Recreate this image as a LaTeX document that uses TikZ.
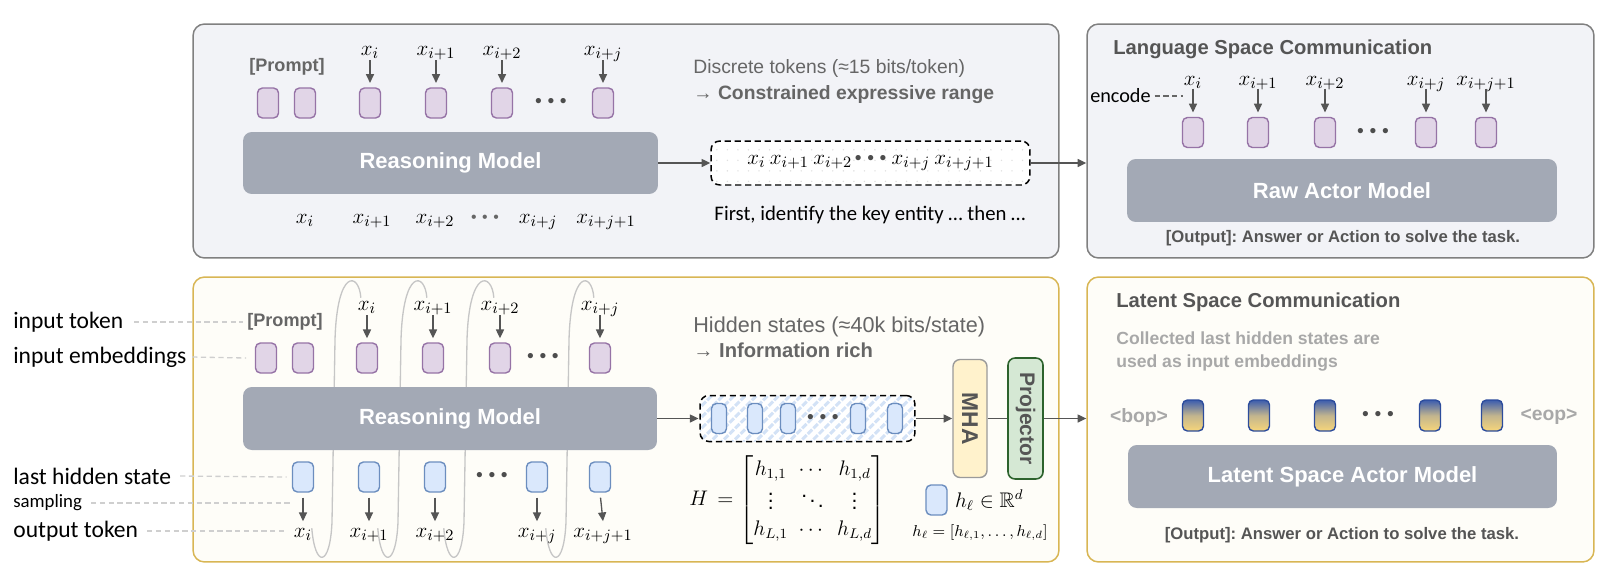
\documentclass[tikz,border=0pt]{standalone}
\usepackage{amsmath}
\usepackage{amssymb}
\usepackage{graphicx}
\usepackage{fontspec}
\setmainfont{Liberation Sans}
\newfontfamily\calfont{Carlito}
\usepackage{tikz}
\usetikzlibrary{arrows.meta}
\usetikzlibrary{patterns.meta}
\frenchspacing
\definecolor{panelfill}{HTML}{F2F3F7}
\definecolor{panelborder}{HTML}{808080}
\definecolor{goldfill}{HTML}{FEFDF8}
\definecolor{goldborder}{HTML}{D8B654}
\definecolor{modelgray}{HTML}{A3A9B5}
\definecolor{embfill}{HTML}{E1D5E7}
\definecolor{embdraw}{HTML}{9673A6}
\definecolor{hidfill}{HTML}{DAE8FC}
\definecolor{hiddraw}{HTML}{6C8EBF}
\definecolor{mhafill}{HTML}{FFF2CC}
\definecolor{mhadraw}{HTML}{9A9A9A}
\definecolor{projfill}{HTML}{D5E8D4}
\definecolor{projdraw}{HTML}{2D632D}
\definecolor{latblue}{HTML}{3C5DAE}
\definecolor{latyellow}{HTML}{F7D67A}
\definecolor{latmid}{HTML}{C2B58E}
\definecolor{latdraw}{HTML}{2C4C9C}
\definecolor{hatchblue}{HTML}{D3E2F6}
\definecolor{arrowgray}{HTML}{555555}
\definecolor{loopgray}{HTML}{C6C6C6}
\definecolor{guidegray}{HTML}{CFCFCF}
\definecolor{textgray}{HTML}{666666}
\definecolor{titlegray}{HTML}{555555}
\definecolor{lightgray}{HTML}{A8A8A8}
\definecolor{dotgray}{HTML}{4D4D4D}
\newcommand{\tokdots}{\textbullet\hspace{3.2pt}\textbullet\hspace{3.2pt}\textbullet}
\tikzset{
	panelstyle/.style={rectangle,rounded corners=6.5pt,draw=panelborder,line width=0.85pt,fill=panelfill},
	goldstyle/.style={rectangle,rounded corners=6.5pt,draw=goldborder,line width=0.85pt,fill=goldfill},
	modelstyle/.style={rectangle,rounded corners=5pt,fill=modelgray,text=white,font=\bfseries\fontsize{12.5}{15}\selectfont},
	embstyle/.style={rectangle,rounded corners=2.8pt,draw=embdraw,fill=embfill,line width=0.8pt,minimum width=0.42cm,minimum height=0.6cm,inner sep=0pt},
	hidstyle/.style={rectangle,rounded corners=2.8pt,draw=hiddraw,fill=hidfill,line width=0.8pt,minimum width=0.42cm,minimum height=0.6cm,inner sep=0pt},
	latstyle/.style={rectangle,rounded corners=2.8pt,draw=latdraw,line width=0.8pt,top color=latblue,bottom color=latyellow,middle color=latmid,minimum width=0.42cm,minimum height=0.62cm,inner sep=0pt},
	tokstyle/.style={anchor=base,inner sep=0.5pt,font=\fontsize{12.5}{14}\selectfont},
	dotsstyle/.style={inner sep=0pt,text=dotgray,font=\fontsize{11}{13}\selectfont},
	arrowstyle/.style={draw=arrowgray,line width=0.75pt,-{Triangle[length=5pt,width=4.6pt]}},
	loopstyle/.style={draw=loopgray,line width=0.75pt},
	guidestyle/.style={draw=guidegray,line width=0.75pt,dash pattern=on 3pt off 2pt},
	notestyle/.style={anchor=west,align=left,inner sep=0pt,text=textgray},
	titlestyle/.style={anchor=west,inner sep=0pt,text=titlegray,font=\bfseries\fontsize{11.5}{14}\selectfont},
	sidestyle/.style={anchor=west,inner sep=0pt,font=\calfont\fontsize{13.4}{15}\selectfont},
	outputstyle/.style={inner sep=0pt,text=titlegray,font=\bfseries\fontsize{9.5}{12}\selectfont},
	promptstyle/.style={inner sep=0pt,text=textgray,font=\bfseries\fontsize{10.3}{12}\selectfont},
	dashboxstyle/.style={rectangle,rounded corners=5pt,draw=black,line width=0.85pt,dash pattern=on 3.5pt off 2.2pt}
}

\begin{document}
\begin{tikzpicture}[x=0.02cm,y=-0.02cm]
		\useasboundingbox (0,0) rectangle (1616,582);
		% panels
		\node[panelstyle,minimum width=17.32cm,minimum height=4.68cm] (rpanel) at (626,141) {};
		\node[panelstyle,minimum width=10.14cm,minimum height=4.68cm] (langpanel) at (1340.5,141) {};
		\node[goldstyle,minimum width=17.32cm,minimum height=5.7cm] (lpanel) at (626,419.5) {};
		\node[goldstyle,minimum width=10.14cm,minimum height=5.7cm] (latpanel) at (1340.5,419.5) {};
		% top left: discrete tokens
		\node[promptstyle] (tprompt) at (287,67) {[Prompt]};
		\node[tokstyle] (tin1) at (370,55) {$x_i$};
		\node[tokstyle] (tin2) at (436,55) {$x_{i+1}$};
		\node[tokstyle] (tin3) at (502,55) {$x_{i+2}$};
		\node[tokstyle] (tin4) at (603,55) {$x_{i+j}$};
		\node[embstyle] (temb1) at (268,103) {};
		\node[embstyle] (temb2) at (305,103) {};
		\node[embstyle] (temb3) at (370,103) {};
		\node[embstyle] (temb4) at (436,103) {};
		\node[embstyle] (temb5) at (502,103) {};
		\node[dotsstyle] (tdots) at (551,103) {\tokdots};
		\node[embstyle] (temb6) at (603,103) {};
		\draw[arrowstyle,shorten >=2.5pt] ([yshift=-3pt]tin1.base) -- (temb3.north);
		\draw[arrowstyle,shorten >=2.5pt] ([yshift=-3pt]tin2.base) -- (temb4.north);
		\draw[arrowstyle,shorten >=2.5pt] ([yshift=-3pt]tin3.base) -- (temb5.north);
		\draw[arrowstyle,shorten >=2.5pt] ([yshift=-3pt]tin4.base) -- (temb6.north);
		\node[modelstyle,minimum width=8.3cm,minimum height=1.24cm] (tmodel) at (450.5,163) {Reasoning Model};
		\node[tokstyle] (tout1) at (305,223) {$x_i$};
		\node[tokstyle] (tout2) at (372,223) {$x_{i+1}$};
		\node[tokstyle] (tout3) at (435,223) {$x_{i+2}$};
		\node[dotsstyle,text=textgray,font=\fontsize{9}{11}\selectfont] (toutdots) at (485,219) {\tokdots};
		\node[tokstyle] (tout4) at (538,223) {$x_{i+j}$};
		\node[tokstyle] (tout5) at (606,223) {$x_{i+j+1}$};
		\node[notestyle,font=\fontsize{11}{15.3}\selectfont] (tnote) at (693,81.5) {Discrete tokens (≈15 bits/token)\\\textbf{→ Constrained expressive range}};
		\node[dashboxstyle,minimum width=6.38cm,minimum height=0.88cm,fill=white,postaction={pattern={Dots[distance=6pt,radius=0.45pt]},pattern color=black!12},font=\fontsize{12.5}{14}\selectfont] (tokbox) at (870.5,163) {$x_i$\hspace{2.5pt}$x_{i+1}$\hspace{2.5pt}$x_{i+2}$\hspace{1.5pt}{\color{dotgray}\fontsize{11}{13}\selectfont\tokdots}\hspace{3pt}$x_{i+j}$\hspace{2.5pt}$x_{i+j+1}$};
		\node[inner sep=0pt,font=\calfont\fontsize{11.8}{13}\selectfont] (tcaption) at (870,215) {First, identify the key entity … then …};
		\draw[arrowstyle] (tmodel.east) -- (tokbox.west);
		\draw[arrowstyle] (tokbox.east) -- (tokbox.east -| langpanel.west);
		% top right: language space
		\node[titlestyle] (langtitle) at (1113,49) {Language Space Communication};
		\node[tokstyle] (lin1) at (1193,85) {$x_i$};
		\node[tokstyle] (lin2) at (1258,85) {$x_{i+1}$};
		\node[tokstyle] (lin3) at (1325,85) {$x_{i+2}$};
		\node[tokstyle] (lin4) at (1426,85) {$x_{i+j}$};
		\node[tokstyle] (lin5) at (1486,85) {$x_{i+j+1}$};
		\node[embstyle] (lemb1) at (1193,132.5) {};
		\node[embstyle] (lemb2) at (1258,132.5) {};
		\node[embstyle] (lemb3) at (1325,132.5) {};
		\node[dotsstyle] (ldots) at (1373,132.5) {\tokdots};
		\node[embstyle] (lemb4) at (1426,132.5) {};
		\node[embstyle] (lemb5) at (1486,132.5) {};
		\draw[arrowstyle,shorten >=2.5pt] ([yshift=-2pt]lin1.base) -- (lemb1.north);
		\draw[arrowstyle,shorten >=2.5pt] ([yshift=-2pt]lin2.base) -- (lemb2.north);
		\draw[arrowstyle,shorten >=2.5pt] ([yshift=-2pt]lin3.base) -- (lemb3.north);
		\draw[arrowstyle,shorten >=2.5pt] ([yshift=-2pt]lin4.base) -- (lemb4.north);
		\draw[arrowstyle,shorten >=2.5pt] ([yshift=-2pt]lin5.base) -- (lemb5.north);
		\node[anchor=east,inner sep=0pt,font=\calfont\fontsize{11.5}{13}\selectfont] (enc) at (1151,96) {encode};
		\draw[draw=textgray,line width=0.75pt,dash pattern=on 3pt off 2pt] ([xshift=2pt]enc.east) -- (enc.east -| lin1.west);
		\node[modelstyle,minimum width=8.6cm,minimum height=1.26cm] (lmodel) at (1342,190.5) {Raw Actor Model};
		\node[outputstyle] (loutput) at (1343,238) {[Output]: Answer or Action to solve the task.};
		% bottom left: tokens and feedback loops
		\node[promptstyle] (bprompt) at (285,322) {[Prompt]};
		\node[tokstyle] (bin1) at (367,310) {$x_i$};
		\node[tokstyle] (bin2) at (433,310) {$x_{i+1}$};
		\node[tokstyle] (bin3) at (500,310) {$x_{i+2}$};
		\node[tokstyle] (bin4) at (600,310) {$x_{i+j}$};
		\node[tokstyle] (bout1) at (303,537) {$x_i$};
		\node[tokstyle] (bout2) at (369,537) {$x_{i+1}$};
		\node[tokstyle] (bout3) at (435,537) {$x_{i+2}$};
		\node[tokstyle] (bout4) at (537,537) {$x_{i+j}$};
		\node[tokstyle] (bout5) at (603,537) {$x_{i+j+1}$};
		\draw[loopstyle] ([xshift=5pt,yshift=5pt]bout1.base) .. controls (315,568) and (330,568) .. (332,522) -- (335,340) .. controls (337,268) and (359,272) .. ([xshift=-3.5pt,yshift=7pt]bin1.base);
		\draw[loopstyle] ([xshift=5pt,yshift=5pt]bout2.base) .. controls (381,568) and (396,568) .. (398,522) -- (401,340) .. controls (403,268) and (425,272) .. ([xshift=-3.5pt,yshift=7pt]bin2.base);
		\draw[loopstyle] ([xshift=5pt,yshift=5pt]bout3.base) .. controls (447,568) and (462,568) .. (464,522) -- (467,340) .. controls (469,268) and (492,272) .. ([xshift=-3.5pt,yshift=7pt]bin3.base);
		\draw[loopstyle] ([xshift=5pt,yshift=5pt]bout4.base) .. controls (549,568) and (564,568) .. (566,522) -- (569,340) .. controls (571,268) and (592,272) .. ([xshift=-3.5pt,yshift=7pt]bin4.base);
		\node[embstyle] (bemb1) at (266,358) {};
		\node[embstyle] (bemb2) at (303,358) {};
		\node[embstyle] (bemb3) at (367,358) {};
		\node[embstyle] (bemb4) at (433,358) {};
		\node[embstyle] (bemb5) at (500,358) {};
		\node[dotsstyle] (bdots1) at (543,358) {\tokdots};
		\node[embstyle] (bemb6) at (600,358) {};
		\draw[arrowstyle,shorten >=2.3pt] ([yshift=-3pt]bin1.base) -- (bemb3.north);
		\draw[arrowstyle,shorten >=2.3pt] ([yshift=-3pt]bin2.base) -- (bemb4.north);
		\draw[arrowstyle,shorten >=2.3pt] ([yshift=-3pt]bin3.base) -- (bemb5.north);
		\draw[arrowstyle,shorten >=2.3pt] ([yshift=-3pt]bin4.base) -- (bemb6.north);
		\node[modelstyle,minimum width=8.28cm,minimum height=1.26cm] (bmodel) at (450,418.5) {Reasoning Model};
		\node[hidstyle] (bhid1) at (303,477) {};
		\node[hidstyle] (bhid2) at (369,477) {};
		\node[hidstyle] (bhid3) at (435,477) {};
		\node[dotsstyle] (bdots2) at (492,477) {\tokdots};
		\node[hidstyle] (bhid4) at (537,477) {};
		\node[hidstyle] (bhid5) at (600,477) {};
		\draw[arrowstyle,shorten <=2.8pt] (bhid1.south) -- ([yshift=9pt]bout1.base);
		\draw[arrowstyle,shorten <=2.8pt] (bhid2.south) -- ([yshift=9pt]bout2.base);
		\draw[arrowstyle,shorten <=2.8pt] (bhid3.south) -- ([yshift=9pt]bout3.base);
		\draw[arrowstyle,shorten <=2.8pt] (bhid4.south) -- ([yshift=9pt]bout4.base);
		\draw[arrowstyle,shorten <=2.8pt] (bhid5.south) -- ([yshift=9pt]bout5.base);
		% side labels
		\node[sidestyle] (linput) at (13,322) {input token};
		\node[sidestyle] (lemb) at (13,357) {input embeddings};
		\node[sidestyle] (lhid) at (13,476) {last hidden state};
		\node[sidestyle,font=\calfont\fontsize{10.7}{12}\selectfont] (lsamp) at (13,503) {sampling};
		\node[sidestyle] (lout) at (13,531) {output token};
		\draw[guidestyle] ([xshift=6pt]linput.east) -- ([xshift=-2pt]bprompt.west);
		\draw[guidestyle] ([xshift=3pt]lemb.east) -- ([xshift=-5pt]bemb1.west);
		\draw[guidestyle] ([xshift=5pt]lhid.east) -- ([xshift=-3pt]bhid1.west);
		\draw[guidestyle] ([xshift=5pt]lsamp.east) -- (lsamp.east -| bhid1.west);
		\draw[guidestyle] ([xshift=5pt]lout.east) -- ([xshift=-4pt]bout1.west |- lout.east);
		% bottom left: hidden states
		\node[notestyle,font=\fontsize{12.3}{14.2}\selectfont] (bnote) at (693,337.5) {Hidden states (≈40k bits/state)\\\fontsize{11.5}{14.2}\selectfont\textbf{→ Information rich}};
		\node[dashboxstyle,minimum width=4.3cm,minimum height=0.92cm,preaction={fill=white},pattern={Lines[angle=45,distance=4.5pt,line width=1.7pt]},pattern color=hatchblue] (hidbox) at (807.5,418.5) {};
		\node[hidstyle,minimum width=0.3cm] (hb1) at (719,418.5) {};
		\node[hidstyle,minimum width=0.3cm] (hb2) at (755,418.5) {};
		\node[hidstyle,minimum width=0.3cm] (hb3) at (788,418.5) {};
		\node[dotsstyle] (hbdots) at (823,418.5) {\tokdots};
		\node[hidstyle,minimum width=0.3cm] (hb4) at (858,418.5) {};
		\node[hidstyle,minimum width=0.3cm] (hb5) at (895,418.5) {};
		\node[rectangle,rounded corners=4pt,draw=mhadraw,fill=mhafill,line width=0.8pt,minimum width=0.68cm,minimum height=2.36cm,inner sep=0pt,text=titlegray,font=\bfseries\fontsize{13}{15}\selectfont] (mha) at (970,418.5) {\rotatebox{-90}{MHA}};
		\node[rectangle,rounded corners=4pt,draw=projdraw,fill=projfill,line width=0.9pt,minimum width=0.7cm,minimum height=2.42cm,inner sep=0pt,text=titlegray,font=\bfseries\fontsize{12}{14}\selectfont] (proj) at (1025.5,418.5) {\rotatebox{-90}{Projector}};
		\draw[arrowstyle] (bmodel.east) -- (bmodel.east -| hidbox.west);
		\draw[arrowstyle] (hidbox.east) -- (mha.west);
		\draw[draw=arrowgray,line width=0.75pt] (mha.east) -- (proj.west);
		\draw[arrowstyle] (proj.east) -- (proj.east -| latpanel.west);
		\node[anchor=west,inner sep=0pt,font=\fontsize{12}{14.5}\selectfont] (hmat) at (689,500) {$\setlength{\arraycolsep}{3pt}H\,=\begin{bmatrix} h_{1,1} & \cdots & h_{1,d}\\ \vdots & \ddots & \vdots\\ h_{L,1} & \cdots & h_{L,d}\end{bmatrix}$};
		\node[hidstyle] (hleg) at (936.5,500) {};
		\node[anchor=west,inner sep=0pt,font=\fontsize{12}{14}\selectfont] (hlegtext) at ([xshift=4pt]hleg.east) {$h_\ell \in \mathbb{R}^d$};
		\node[inner sep=0pt,font=\fontsize{9}{11}\selectfont] (hvec) at (980,533) {$h_\ell = [h_{\ell,1}, \ldots, h_{\ell,d}]$};
		% bottom right: latent space
		\node[titlestyle] (lattitle) at (1116,302) {Latent Space Communication};
		\node[notestyle,text=lightgray,font=\bfseries\fontsize{10}{13}\selectfont] (latnote) at (1116,351.5) {Collected last hidden states are\\used as input embeddings};
		\node[inner sep=0pt,text=lightgray,font=\bfseries\fontsize{11}{13}\selectfont] (bop) at (1139,417) {<bop>};
		\node[latstyle] (lat1) at (1193,415.5) {};
		\node[latstyle] (lat2) at (1259,415.5) {};
		\node[latstyle] (lat3) at (1325,415.5) {};
		\node[dotsstyle] (latdots) at (1378,415.5) {\tokdots};
		\node[latstyle] (lat4) at (1430,415.5) {};
		\node[latstyle] (lat5) at (1492,415.5) {};
		\node[inner sep=0pt,text=lightgray,font=\bfseries\fontsize{11}{13}\selectfont] (eop) at (1549,417) {<eop>};
		\node[modelstyle,minimum width=8.58cm,minimum height=1.26cm] (latmodel) at (1342.5,476.5) {Latent Space Actor Model};
		\node[outputstyle] (latoutput) at (1342,535) {[Output]: Answer or Action to solve the task.};
		\end{tikzpicture}
\end{document}
